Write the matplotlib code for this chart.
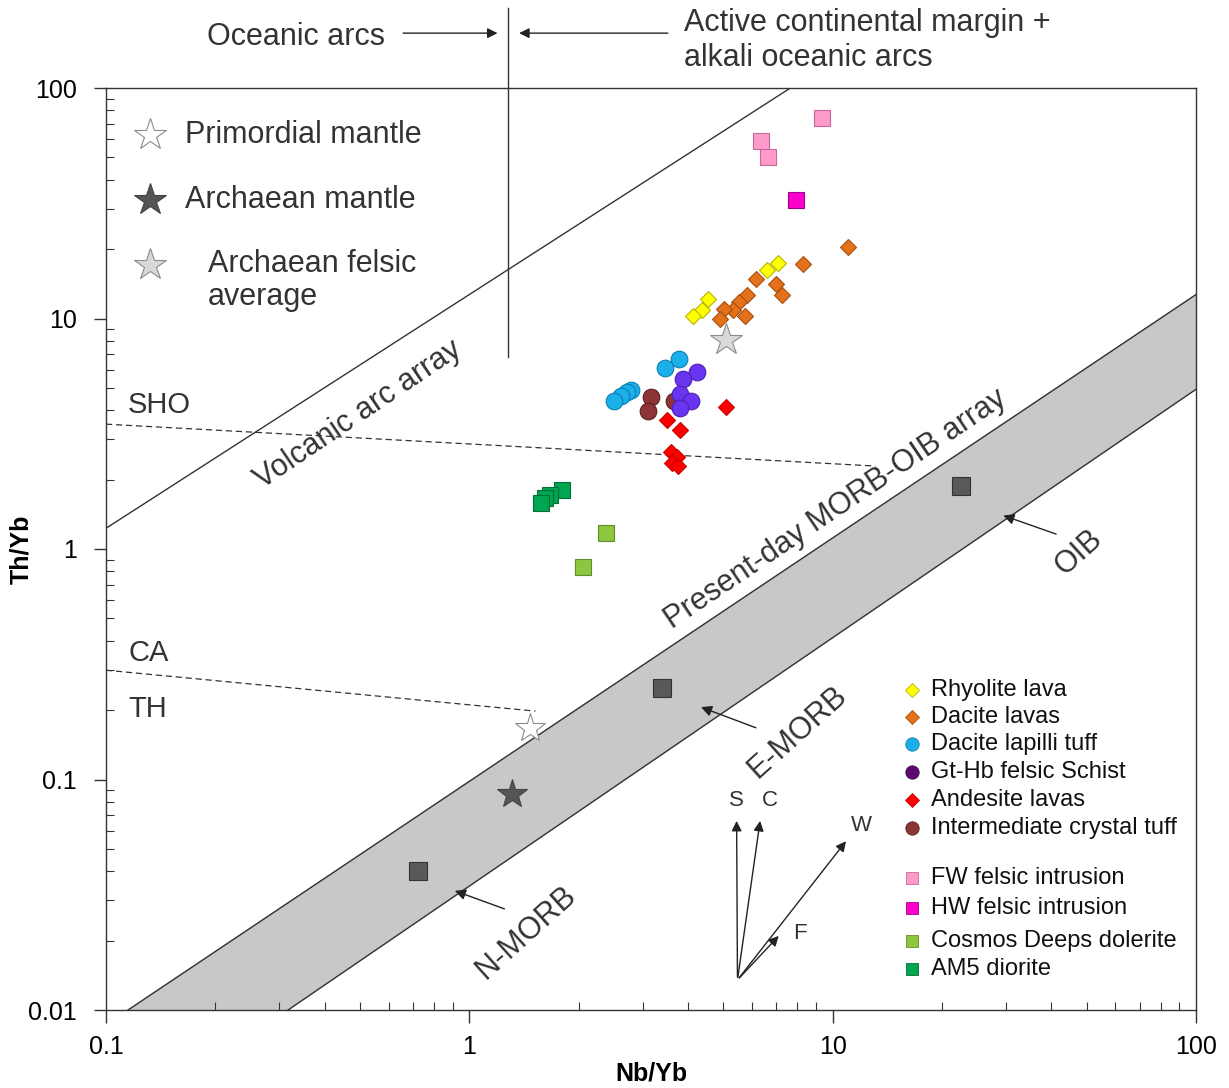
import matplotlib.pyplot as plt
from matplotlib.ticker import LogLocator, FuncFormatter, NullFormatter

plt.rcParams['font.family'] = ['Liberation Sans', 'DejaVu Sans']

# Nb/Yb and Th/Yb of the sample groups
rhyolite_nb = [7.09, 6.58, 4.53, 4.38, 4.13]
rhyolite_th = [17.4, 16.3, 12.15, 10.9, 10.3]
dacite_nb = [11.05, 8.30, 6.17, 7.00, 7.24, 5.82, 5.52, 5.31, 5.02, 4.91, 5.73]
dacite_th = [20.5, 17.2, 14.8, 14.1, 12.7, 12.6, 11.8, 10.9, 11.0, 10.0, 10.3]
lapilli_nb = [3.77, 3.45, 2.78, 2.72, 2.61, 2.50]
lapilli_th = [6.67, 6.08, 4.90, 4.81, 4.61, 4.40]
schist_nb = [4.24, 3.88, 3.80, 4.08, 3.81]
schist_th = [5.88, 5.45, 4.70, 4.39, 4.08]
andesite_nb = [5.10, 3.50, 3.79, 3.58, 3.73, 3.62, 3.75]
andesite_th = [4.14, 3.63, 3.28, 2.64, 2.51, 2.35, 2.29]
crystal_nb = [3.17, 3.11, 3.65]
crystal_th = [4.58, 3.98, 4.40]
fw_nb = [9.37, 6.33, 6.65]
fw_th = [74.3, 58.9, 50.3]
hw_nb = [7.91]
hw_th = [32.7]
cosmos_nb = [2.38, 2.06]
cosmos_th = [1.17, 0.838]
am5_nb = [1.80, 1.67, 1.62, 1.57]
am5_th = [1.80, 1.71, 1.66, 1.58]

# reference compositions
morb_names = ["N-MORB", "E-MORB", "OIB"]
morb_nb = [0.724, 3.40, 22.5]
morb_th = [0.040, 0.249, 1.87]
primordial = (1.47, 0.167)
archaean_mantle = (1.31, 0.0865)
archaean_felsic = (5.1, 8.07)

# field boundaries
array_upper_nb, array_upper_th = [0.115, 100], [0.01, 12.7]
array_lower_nb, array_lower_th = [0.317, 100], [0.01, 4.93]
arc_nb, arc_th = [0.1, 7.65], [1.23, 100]
sho_nb, sho_th = [0.1, 13.1], [3.48, 2.29]
ca_nb, ca_th = [0.1, 1.52], [0.298, 0.198]
arc_split_nb = 1.28
arc_split_th = [6.78, 222]

# process vectors (origin, tips)
vec_origin = (5.47, 0.0135)
vec_names = ["S", "C", "W", "F"]
vec_nb = [5.44, 6.33, 11.0, 7.19]
vec_th = [0.068, 0.068, 0.0552, 0.0214]

groups = [
    ("Cosmos Deeps dolerite", cosmos_nb, cosmos_th, "s", 11, "#8dc63f", "#5f8f2a"),
    ("AM5 diorite", am5_nb, am5_th, "s", 11, "#00a550", "#00703a"),
    ("Andesite lavas", andesite_nb, andesite_th, "D", 8.5, "#ff0000", "#c80000"),
    ("Intermediate crystal tuff", crystal_nb, crystal_th, "o", 12, "#8b3535", "#5e2020"),
    ("Dacite lapilli tuff", lapilli_nb, lapilli_th, "o", 12, "#1cb0ea", "#0a7fb0"),
    ("Gt-Hb felsic Schist", schist_nb, schist_th, "o", 12, "#6a35f0", "#4a20b0"),
    ("Dacite lavas", dacite_nb, dacite_th, "D", 8.5, "#e3701a", "#a84e10"),
    ("Rhyolite lava", rhyolite_nb, rhyolite_th, "D", 8.5, "#ffff00", "#b5b500"),
    ("FW felsic intrusion", fw_nb, fw_th, "s", 11, "#ff9acb", "#c46a98"),
    ("HW felsic intrusion", hw_nb, hw_th, "s", 11, "#ff00cc", "#a0008a"),
]

fig = plt.figure(figsize=(12.29, 10.88), dpi=100)
ax = fig.add_axes([106 / 1229, 78 / 1088, 1090 / 1229, 922 / 1088])
ax.set_xscale("log")
ax.set_yscale("log")
ax.set_xlim(0.1, 100)
ax.set_ylim(0.01, 100)

line_kw = dict(color="#333333", lw=1.0)

# MORB-OIB array band
ax.fill([array_upper_nb[0], array_upper_nb[1], array_lower_nb[1], array_lower_nb[0]],
        [array_upper_th[0], array_upper_th[1], array_lower_th[1], array_lower_th[0]],
        color="#c8c8c8", zorder=1)
ax.plot(array_upper_nb, array_upper_th, **line_kw, zorder=2)
ax.plot(array_lower_nb, array_lower_th, **line_kw, zorder=2)
ax.plot(arc_nb, arc_th, **line_kw, zorder=2)
ax.plot(sho_nb, sho_th, color="#333333", lw=0.9, ls=(0, (5, 3)), zorder=2)
ax.plot(ca_nb, ca_th, color="#333333", lw=0.9, ls=(0, (5, 3)), zorder=2)
ax.plot([arc_split_nb, arc_split_nb], arc_split_th, **line_kw, clip_on=False, zorder=2)

for name, nb, th, mk, ms, fc, ec in groups:
    ax.plot(nb, th, ls="none", marker=mk, ms=ms, mfc=fc, mec=ec, mew=0.8, zorder=4)

ax.plot(morb_nb, morb_th, ls="none", marker="s", ms=13.5, mfc="#595959", mec="#333333",
        mew=0.8, zorder=4)
ax.plot(*primordial, marker="*", ms=22, mfc="white", mec="#8c8c8c", mew=0.8, zorder=5)
ax.plot(*archaean_mantle, marker="*", ms=22, mfc="#555555", mec="#444444", mew=0.8, zorder=5)
ax.plot(*archaean_felsic, marker="*", ms=24, mfc="#d9d9d9", mec="#8c8c8c", mew=0.8, zorder=5)

# labels for the reference compositions
arrow_kw = dict(arrowstyle="-|>", color="#222222", lw=1.0, mutation_scale=16)
morb_label_xy = [(1.43, 0.0216), (8.01, 0.161), (47.6, 0.961)]
morb_tail = [(1.27, 0.0272), (6.25, 0.166), (41.9, 1.15)]
morb_head = [(0.897, 0.0332), (4.27, 0.208), (29.0, 1.41)]
for name, lxy, t, h in zip(morb_names, morb_label_xy, morb_tail, morb_head):
    ax.annotate("", xy=h, xytext=t, arrowprops=arrow_kw, zorder=6)
    ax.text(*lxy, name, fontsize=22, color="#333333", rotation=42, ha="center",
            va="center", rotation_mode="anchor")

ax.text(10.2, 1.49, "Present-day MORB-OIB array", fontsize=22, color="#333333",
        rotation=34, ha="center", va="center", rotation_mode="anchor")
ax.text(0.494, 3.81, "Volcanic arc array", fontsize=22, color="#333333",
        rotation=34, ha="center", va="center", rotation_mode="anchor")
ax.text(0.115, 4.22, "SHO", fontsize=21, color="#333333", va="center")
ax.text(0.115, 0.354, "CA", fontsize=21, color="#333333", va="center")
ax.text(0.115, 0.202, "TH", fontsize=21, color="#333333", va="center")

# process vectors
vec_label_off = {"S": (0, 13), "C": (7, 13), "W": (10, 10), "F": (14, 0)}
for name, nb, th in zip(vec_names, vec_nb, vec_th):
    ax.annotate("", xy=(nb, th), xytext=vec_origin,
                arrowprops=dict(arrowstyle="-|>", color="#222222", lw=1.0, mutation_scale=15))
    dx, dy = vec_label_off[name]
    ax.annotate(name, xy=(nb, th), xytext=(dx, dy), textcoords="offset points",
                fontsize=16, color="#333333", ha="center", va="center")

# arc setting annotations above the frame
ax.annotate("", xy=(1.217, 173), xytext=(0.646, 173), annotation_clip=False,
            arrowprops=dict(arrowstyle="-|>", color="#222222", lw=1.0, mutation_scale=15))
ax.annotate("", xy=(1.347, 173), xytext=(3.58, 173), annotation_clip=False,
            arrowprops=dict(arrowstyle="-|>", color="#222222", lw=1.0, mutation_scale=15))
ax.text(0.587, 166, "Oceanic arcs", fontsize=22, color="#333333", ha="right", va="center",
        clip_on=False)
ax.text(3.89, 161, "Active continental margin +\nalkali oceanic arcs", fontsize=22,
        color="#333333", ha="left", va="center", linespacing=1.2, clip_on=False)

# star key, upper left
star_key = [("Primordial mantle", "white", "#8c8c8c", 0.949, 0.0725),
            ("Archaean mantle", "#555555", "#444444", 0.879, 0.0725),
            ("Archaean felsic\naverage", "#d9d9d9", "#8c8c8c", 0.808, 0.0936)]
for label, fc, ec, y, tx in star_key:
    ax.plot(0.040, y, marker="*", ms=24, mfc=fc, mec=ec, mew=0.8, transform=ax.transAxes)
    ty = y if "\n" not in label else y - 0.017
    ax.text(tx, ty, label, fontsize=22, color="#333333", va="center",
            transform=ax.transAxes, linespacing=1.15)

# sample key, lower right
key_order = ["Rhyolite lava", "Dacite lavas", "Dacite lapilli tuff", "Gt-Hb felsic Schist",
             "Andesite lavas", "Intermediate crystal tuff", "FW felsic intrusion",
             "HW felsic intrusion", "Cosmos Deeps dolerite", "AM5 diorite"]
key_y = [0.347, 0.318, 0.288, 0.258, 0.228, 0.197, 0.143, 0.111, 0.075, 0.045]
style = {g[0]: g[3:] for g in groups}
style["Gt-Hb felsic Schist"] = ("o", 12, "#5c0a6e", "#3e0a4c")
for label, y in zip(key_order, key_y):
    mk, ms, fc, ec = style[label]
    ax.plot(0.7394, y, marker=mk, ms=ms * 0.8, mfc=fc, mec=ec, mew=0.6,
            transform=ax.transAxes)
    ax.text(0.757, y, label, fontsize=17, color="#111111", va="center",
            transform=ax.transAxes)

# axes styling
ax.xaxis.set_major_locator(LogLocator(base=10, numticks=10))
ax.yaxis.set_major_locator(LogLocator(base=10, numticks=10))
ax.xaxis.set_minor_locator(LogLocator(base=10, subs=range(2, 10), numticks=20))
ax.yaxis.set_minor_locator(LogLocator(base=10, subs=range(2, 10), numticks=20))
fmt = FuncFormatter(lambda v, _: f"{v:g}")
ax.xaxis.set_major_formatter(fmt)
ax.yaxis.set_major_formatter(fmt)
ax.xaxis.set_minor_formatter(NullFormatter())
ax.yaxis.set_minor_formatter(NullFormatter())
ax.tick_params(which="major", direction="out", length=9, width=1, labelsize=18,
               color="#333333")
ax.tick_params(which="minor", direction="in", length=6, width=0.8, color="#333333")
ax.tick_params(axis="x", pad=9)
ax.tick_params(axis="y", pad=12)
for s in ax.spines.values():
    s.set_color("#333333")
    s.set_linewidth(1.0)

ax.set_xlabel("Nb/Yb", fontsize=18, fontweight="bold", labelpad=2)
ax.set_ylabel("Th/Yb", fontsize=18, fontweight="bold")
ax.yaxis.set_label_coords(-0.067, 0.5)

fig.savefig("out.png", dpi=100)
